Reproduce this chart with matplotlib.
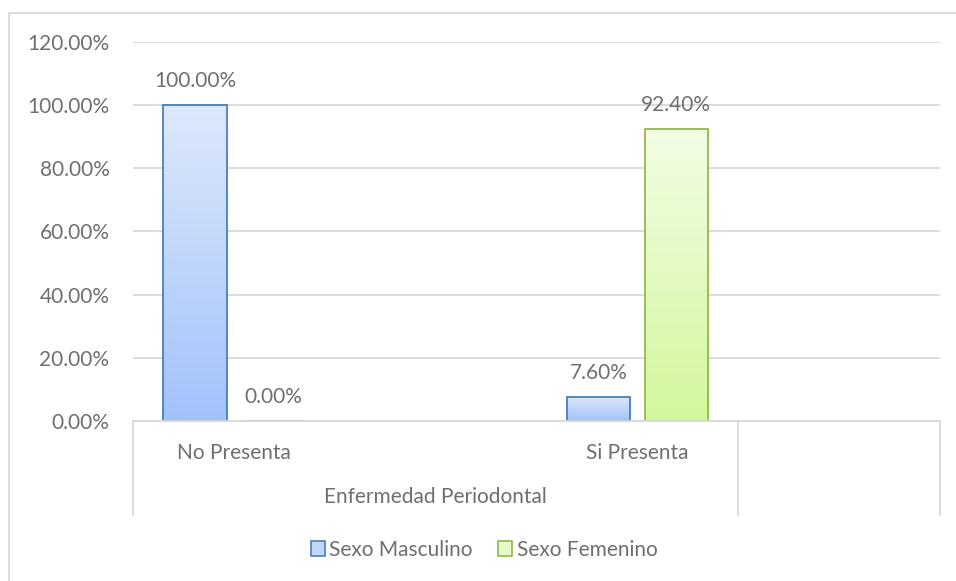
import matplotlib
matplotlib.use("Agg")
import matplotlib.pyplot as plt
import numpy as np
from matplotlib.colors import LinearSegmentedColormap
from matplotlib.patches import Patch
from matplotlib.lines import Line2D

# ---- data ----
categories = ["No Presenta", "", "Si Presenta", ""]
outer_group = "Enfermedad Periodontal"
series_names = ["Sexo Masculino", "Sexo Femenino"]
masculino = [1.00, None, 0.076, None]
femenino = [0.00, None, 0.924, None]
yticks = [0.0, 0.2, 0.4, 0.6, 0.8, 1.0, 1.2]

plt.rcParams['font.family'] = ['Lato', 'DejaVu Sans']
TXT = "#6f6f6f"
GRID = "#d9d9d9"
FS = 15

W, H = 956, 581
fig = plt.figure(figsize=(W / 100, H / 100), dpi=100)
L, R, T, B = 133, 940, 42, 421
ax = fig.add_axes([L / W, 1 - B / H, (R - L) / W, (B - T) / H])

ax.set_xlim(-0.5, len(categories) - 0.5)
ax.set_ylim(0, 1.2)
for s in ax.spines.values():
    s.set_visible(False)
ax.set_yticks(yticks)
ax.set_yticklabels([f"{v*100:.2f}%" for v in yticks], color=TXT, fontsize=FS)
ax.tick_params(axis='y', length=0, pad=17)
ax.set_xticks([])
ax.yaxis.grid(True, color=GRID, linewidth=1.3)
ax.set_axisbelow(True)

bw = 0.315
off = 0.193
styles = [
    dict(top="#dde9fc", bot="#a2c2fb", edge="#4a7ebb"),
    dict(top="#f2fde4", bot="#d3f79c", edge="#92b94f"),
]

x = np.arange(len(categories))
for si, (vals, st, sign) in enumerate(zip([masculino, femenino], styles, [-1, 1])):
    xs = [xi + sign * off for xi, v in zip(x, vals) if v is not None]
    vs = [v for v in vals if v is not None]
    bars = ax.bar(xs, vs, width=bw, facecolor="none", edgecolor=st["edge"],
                  linewidth=1.3, zorder=3)
    cmap = LinearSegmentedColormap.from_list("g", [st["bot"], st["top"]])
    grad = np.linspace(0, 1, 256).reshape(-1, 1)
    for b, v in zip(bars, vs):
        if v > 0:
            x0, y0 = b.get_x(), b.get_y()
            im = ax.imshow(grad, cmap=cmap, origin="lower", aspect="auto",
                           extent=[x0, x0 + b.get_width(), y0, y0 + b.get_height()],
                           zorder=2)
            im.set_clip_path(b)
        ax.annotate(f"{v*100:.2f}%", (b.get_x() + b.get_width() / 2, v),
                    xytext=(0, 10), textcoords="offset points", ha="center",
                    va="bottom", color=TXT, fontsize=FS)

# ---- multi-level category axis ----
def fx(px):
    return px / W
def fy(py):
    return 1 - py / H

fig.add_artist(Line2D([fx(L), fx(R)], [fy(B), fy(B)], color=GRID, lw=1.3))
for px in [133, 738, 940]:
    fig.add_artist(Line2D([fx(px), fx(px)], [fy(B), fy(515)], color=GRID, lw=1.3))
cat_w = (R - L) / len(categories)
for i, c in enumerate(categories):
    if c:
        fig.text(fx(L + cat_w * (i + 0.5)), fy(453), c, ha="center", va="center",
                 color=TXT, fontsize=FS)
fig.text(fx((133 + 738) / 2), fy(497), outer_group, ha="center", va="center",
         color=TXT, fontsize=FS)

# ---- figure border (top & left) ----
fig.add_artist(Line2D([fx(9), fx(956)], [fy(13), fy(13)], color=GRID, lw=1.3))
fig.add_artist(Line2D([fx(9), fx(9)], [fy(13), fy(581)], color=GRID, lw=1.3))

# ---- legend ----
handles = [Patch(facecolor="#c3d7fb", edgecolor=styles[0]["edge"], lw=1.2),
           Patch(facecolor="#e6fbc8", edgecolor=styles[1]["edge"], lw=1.2)]
fig.legend(handles, series_names, loc="center", bbox_to_anchor=(fx(484), fy(550)),
           ncol=2, frameon=False, fontsize=FS, labelcolor=TXT,
           handlelength=0.7, handleheight=0.7, handletextpad=0.2, columnspacing=1.2)

fig.savefig("out.png", dpi=100)
